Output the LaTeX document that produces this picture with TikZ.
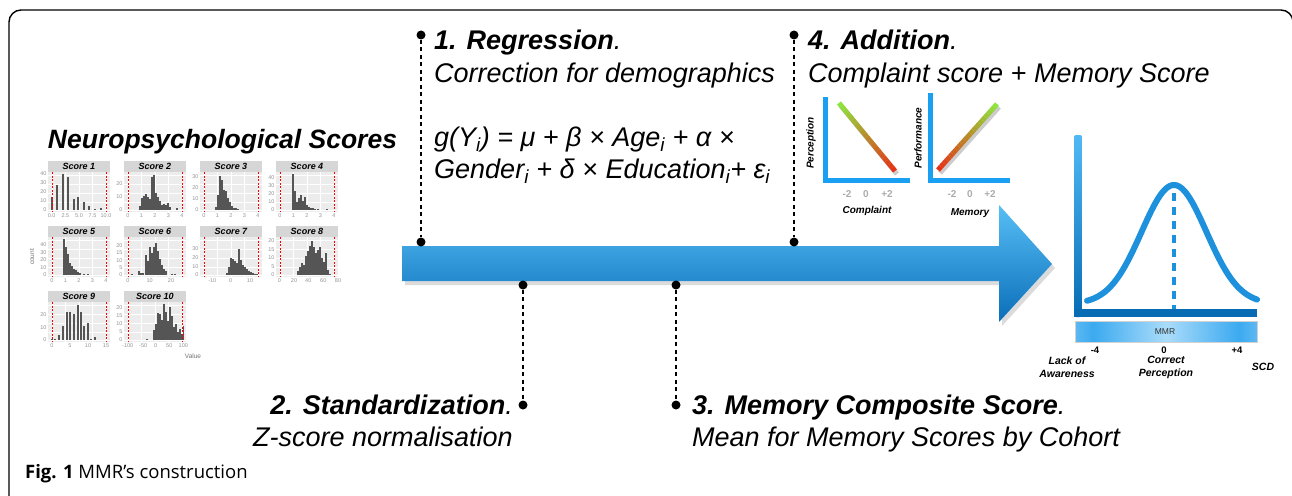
\documentclass[tikz,border=0pt]{standalone}
\usepackage{fontspec}
\setmainfont{Liberation Sans}
\newfontfamily\capfont{Open Sans}
\usetikzlibrary{positioning, calc}
\definecolor{arrowtop}{RGB}{88,190,245}
\definecolor{arrowbot}{RGB}{10,110,185}
\definecolor{miniblue}{RGB}{26,160,242}
\definecolor{belltop}{RGB}{80,185,245}
\definecolor{bellbot}{RGB}{8,108,180}
\definecolor{bellblue}{RGB}{30,145,220}
\definecolor{mmrblue}{RGB}{60,170,240}
\definecolor{mmrlight}{RGB}{170,220,250}
\definecolor{slopegreen}{RGB}{140,228,60}
\definecolor{slopered}{RGB}{235,40,20}
\definecolor{stripgray}{RGB}{214,214,214}
\definecolor{panelgray}{RGB}{236,236,236}
\definecolor{bargray}{RGB}{85,85,85}
\pgfdeclarehorizontalshading{mmrshade}{100bp}{color(0bp)=(white); color(30bp)=(mmrblue); color(50bp)=(mmrlight); color(70bp)=(mmrblue); color(100bp)=(white)}

% one small histogram: title, bars (x/height), x ticks, y ticks
\newcommand{\scorepanel}[4]{%
  \fill[panelgray] (0,11) rectangle (62,51);
  \foreach \g in {4,17.5,31,44.5,58} \draw[gridline] (\g,11) -- (\g,51);
  \foreach \g in {14,23,32,41,49} \draw[gridline] (0,\g) -- (62,\g);
  \fill[stripgray] (0,0) rectangle (62,11);
  \node[striptext] at (31,5.5) {#1};
  \foreach \bx/\bh in {#2} \fill[histbar] (\bx-0.9,49) rectangle (\bx+0.9,49-\bh);
  \draw[cutoff] (4,11) -- (4,51);
  \draw[cutoff] (58,11) -- (58,51);
  \foreach \tk/\tp in {#3} \node[tick, anchor=north] at (\tp,52) {\tk};
  \foreach \tk/\tp in {#4} \node[tick, anchor=east] at (-0.5,\tp) {\tk};
}

\begin{document}
\begin{tikzpicture}[x=1pt, y=-1pt,
  frame/.style={draw=black, line width=1.4pt, rounded corners=12pt},
  leader/.style={line width=2.6pt, dash pattern=on 4pt off 3.5pt},
  dot/.style={circle, fill=black, inner sep=0pt, minimum size=9pt},
  stepfont/.style={font=\fontsize{27}{30}\selectfont\itshape, inner sep=0pt},
  headline/.style={font=\fontsize{26.5}{30}\selectfont\bfseries\itshape, inner sep=0pt},
  gridline/.style={white, line width=0.5pt},
  histbar/.style={fill=bargray},
  cutoff/.style={red, line width=0.9pt, dash pattern=on 2pt off 1.5pt},
  striptext/.style={font=\fontsize{9}{10}\selectfont\bfseries\itshape, inner sep=0pt},
  tick/.style={font=\fontsize{5.5}{5.5}\selectfont, text=gray!85, inner sep=0.8pt},
  axislabel/.style={font=\fontsize{6.5}{7}\selectfont, text=gray!90!black, inner sep=0pt},
  miniaxis/.style={draw=miniblue, line width=5pt},
  slope/.style={line width=5pt},
  minilabel/.style={font=\fontsize{10}{11}\selectfont\bfseries\itshape, inner sep=0pt},
  miniticks/.style={font=\fontsize{10}{10}\selectfont\bfseries, text=gray!65, inner sep=0pt},
  bellline/.style={draw=bellblue, line width=6pt, line cap=round},
  belldash/.style={draw=bellblue, line width=4.5pt, dash pattern=on 8pt off 6pt},
  belllabel/.style={font=\fontsize{10.5}{13}\selectfont\bfseries\itshape, align=center, inner sep=0pt},
  bellticks/.style={font=\fontsize{9.5}{10}\selectfont\bfseries, inner sep=0pt},
  mmrtext/.style={font=\fontsize{8.5}{9}\selectfont, text=black!80, inner sep=0pt},
  caption/.style={font=\capfont\fontsize{18.5}{20}\selectfont, inner sep=0pt}
]
  \useasboundingbox (0,0) rectangle (1292,495);
  \clip (0,0) rectangle (1292,495);
  \draw[frame] (9,10) rectangle (1293,580);

  % Scores
  \node[headline, anchor=base] (nps) at (222.5,148) {Neuropsychological Scores};
  \begin{scope}[shift={(48,161)}]
    \scorepanel{Score 1}{3.7/12.8, 9.3/24.8, 15/35.8, 20.3/33, 26/11, 30/12.8, 35.7/8.3, 41.3/3.7, 47/1, 52.7/1.8}
      {0.0/3.7, 2.5/17.4, 5.0/31, 7.5/44.5, 10.0/58}{0/49, 10/39.8, 20/30.7, 30/21.5, 40/12.3}
  \end{scope}
  \begin{scope}[shift={(124,161)}]
    \scorepanel{Score 2}{16/4, 18/12, 20/14, 22/16, 24/13, 26/11, 28/33, 30/35, 32/17, 34/13, 36/9, 38/5, 40/6, 42/5, 44/7, 46/3, 53/2}
      {0/4, 1/17.5, 2/31, 3/44.5, 4/58}{0/49, 10/36, 20/23}
  \end{scope}
  \begin{scope}[shift={(200,161)}]
    \scorepanel{Score 3}{16/3, 18/15, 20/34, 22/30, 24/20, 26/19, 28/12, 30/8, 32/4, 34/2, 36/2, 38/1}
      {0/4, 1/17.5, 2/31, 3/44.5, 4/58}{0/49, 10/38, 20/27, 30/16}
  \end{scope}
  \begin{scope}[shift={(276,161)}]
    \scorepanel{Score 4}{17/36, 19/19, 21/8, 23/12, 25/15, 27/9, 29/13, 31/5, 33/3, 35/2, 37/2, 39/1, 42/1, 51/1}
      {0/4, 1/17.5, 2/31, 3/44.5, 4/58}{0/49, 10/40.8, 20/32.6, 30/24.4, 40/16.2}
  \end{scope}
  \begin{scope}[shift={(48,226)}]
    \scorepanel{Score 5}{16/36, 18/28, 20/21, 22/12, 24/9, 26/6, 28/5, 30/3, 32/2, 36/1, 40/1}
      {0/4, 1/17.5, 2/31, 3/44.5, 4/58}{0/49, 10/41.5, 20/34, 30/26.5, 40/19}
  \end{scope}
  \begin{scope}[shift={(124,226)}]
    \scorepanel{Score 6}{8/1, 15/4, 17/2, 19/2, 22/20, 24/14, 26/28, 28/22, 30/28, 32/32, 34/24, 36/16, 38/10, 40/6, 42/4, 48/1, 51/1}
      {0/4, 10/25.7, 20/47}{0/49, 5/41.7, 10/34.3, 15/27, 20/19.7}
  \end{scope}
  \begin{scope}[shift={(200,226)}]
    \scorepanel{Score 7}{27/2, 29/8, 31/17, 33/16, 35/14, 37/12, 39/26, 41/15, 43/10, 45/8, 47/6, 49/4, 51/3, 53/2, 55/1, 57/1}
      {-10/12.3, 0/30.7, 10/50}{0/49, 10/40.3, 20/31.6, 30/23}
  \end{scope}
  \begin{scope}[shift={(276,226)}]
    \scorepanel{Score 8}{22/4, 24/8, 26/12, 28/10, 30/19, 32/24, 34/29, 36/34, 38/28, 40/22, 42/25, 44/28, 46/17, 48/13, 50/22, 52/5, 54/1}
      {0/3.3, 20/18, 40/32.3, 60/47.3, 80/62}{0/49, 5/40.4, 10/31.8, 15/23.2, 20/14.7}
  \end{scope}
  \begin{scope}[shift={(48,291)}]
    \scorepanel{Score 9}{3.7/1.3, 7/1.3, 11/5, 14.7/14, 18.7/28, 22.3/28, 26/25.6, 29.7/34.6, 33/28, 36/14, 39.7/16.7, 43/1.3, 46.7/2.6}
      {0/4, 5/22, 10/40, 15/58}{0/49, 10/36.2, 20/23.4}
  \end{scope}
  \begin{scope}[shift={(124,291)}]
    \scorepanel{Score 10}{22.7/1.5, 30/10, 32/16, 34/27, 36/26, 38/20, 40/36, 42/28, 44/19, 46/33, 48/24, 50/13, 52/16, 54/8, 56/11, 58/6, 59.5/14}
      {-100/3.7, -50/19.3, 0/31.7, 50/45.3, 100/59.3}{0/49, 5/40.8, 10/32.7, 15/24.5, 20/16.3}
  \end{scope}
  \node[axislabel, rotate=90] (count) at (32,257) {count};
  \node[axislabel] (value) at (193,356) {Value};

  % Timeline arrow
  \begin{scope}[shift={(3,4)}]
    \fill[black, opacity=.14] (402,246) -- (999,246) -- (999,205) -- (1052,264) -- (999,322) -- (999,281) -- (402,281) -- cycle;
  \end{scope}
  \shade[top color=arrowtop, bottom color=arrowbot] (402,246) -- (999,246) -- (999,205) -- (1052,264) -- (999,322) -- (999,281) -- (402,281) -- cycle;

  % Steps
  \node[dot] (d1a) at (421,35) {};
  \node[dot] (d1b) at (421,242) {};
  \node[dot] (d4a) at (794,35) {};
  \node[dot] (d4b) at (794,242) {};
  \node[dot] (d2a) at (523,285) {};
  \node[dot] (d2b) at (523,405) {};
  \node[dot] (d3a) at (676,285) {};
  \node[dot] (d3b) at (676,405) {};
  \draw[leader] (d1a) -- (d1b);
  \draw[leader] (d4a) -- (d4b);
  \draw[leader] (d2a) -- (d2b);
  \draw[leader] (d3a) -- (d3b);

  \node[stepfont, anchor=base west] (regt) at (434,50) {{\bfseries 1. Regression}.};
  \node[stepfont, below=32pt of regt.base west, anchor=base west] (regs) {Correction for demographics};
  \node[stepfont, anchor=base west] (regeq) at (434,146) {g(Y\textsubscript{i}) = μ + β × Age\textsubscript{i} + α ×};
  \node[stepfont, below=32pt of regeq.base west, anchor=base west] (regeqb) {Gender\textsubscript{i} + δ × Education\textsubscript{i}+ ε\textsubscript{i}};

  \node[stepfont, anchor=base west] (addt) at (808,50) {{\bfseries 4. Addition}.};
  \node[stepfont, below=32pt of addt.base west, anchor=base west] (adds) {Complaint score + Memory Score};

  \node[stepfont, anchor=base east] (stdt) at (513,414) {{\bfseries 2. Standardization}.};
  \node[stepfont, below=32pt of stdt.base east, anchor=base east] (stds) {Z-score normalisation};

  \node[stepfont, anchor=base west] (memt) at (692,414) {{\bfseries 3. Memory Composite Score}.};
  \node[stepfont, below=32pt of memt.base west, anchor=base west] (mems) {Mean for Memory Scores by Cohort};

  % Addition plots
  \draw[miniaxis] (825,97) -- (825,180) -- (910,180);
  \draw[miniaxis] (930,93) -- (930,180) -- (1010,180);
  \coordinate (c1s) at (839,103);
  \coordinate (c1e) at (895,171);
  \coordinate (c2s) at (997,104);
  \coordinate (c2e) at (938,170);
  \foreach \s/\e in {c1s/c1e, c2s/c2e} {
    \draw[slope, black, opacity=.2] ([shift={(2,3)}]\s) -- ([shift={(2,3)}]\e);
    \foreach \i in {0,...,19} {
      \pgfmathsetmacro\pa{\i/20}
      \pgfmathsetmacro\pb{(\i+1)/20}
      \pgfmathtruncatemacro\mix{100-5*\i}
      \draw[slope, color=slopegreen!\mix!slopered] ($(\s)!\pa!(\e)$) -- ($(\s)!\pb!(\e)$);
    }
  }
  \node[minilabel, rotate=90] (perc) at (811,143) {Perception};
  \node[minilabel, rotate=90] (perf) at (918,138) {Performance};
  \node[miniticks] (ca) at (847,194) {-2};
  \node[miniticks] (cb) at (866,194) {0};
  \node[miniticks] (cc) at (887,194) {+2};
  \node[miniticks] (ma) at (952,194) {-2};
  \node[miniticks] (mb) at (970,194) {0};
  \node[miniticks] (mc) at (990,194) {+2};
  \node[minilabel] (cpl) at (867,211) {Complaint};
  \node[minilabel] (mem) at (970,213) {Memory};

  % MMR curve
  \shade[top color=belltop, bottom color=bellbot, rounded corners=2pt] (1074,135) rectangle (1082,317);
  \fill[bellbot] (1074,309) rectangle (1257,317);
  \draw[belldash] (1174,193) -- (1174,309);
  \draw[bellline] plot[domain=1087:1257, samples=90] (\x, {304-119*exp(-((\x-1174)^2)/2100)});
  \shadedraw[shading=mmrshade, draw=gray!35] (1075,321) rectangle (1257,342);
  \node[mmrtext] (mmr) at (1165,332) {MMR};
  \node[bellticks] (m4) at (1095,350) {-4};
  \node[bellticks] (z0) at (1164,350) {0};
  \node[bellticks] (p4) at (1237,350) {+4};
  \node[belllabel] (lack) at (1067,367) {Lack of\\Awareness};
  \node[belllabel] (corr) at (1166,367) {Correct\\Perception};
  \node[belllabel] (scd) at (1263,367) {SCD};

  \node[caption, anchor=base west] (cap) at (25,478) {{\bfseries Fig. 1} MMR’s construction};
\end{tikzpicture}
\end{document}
